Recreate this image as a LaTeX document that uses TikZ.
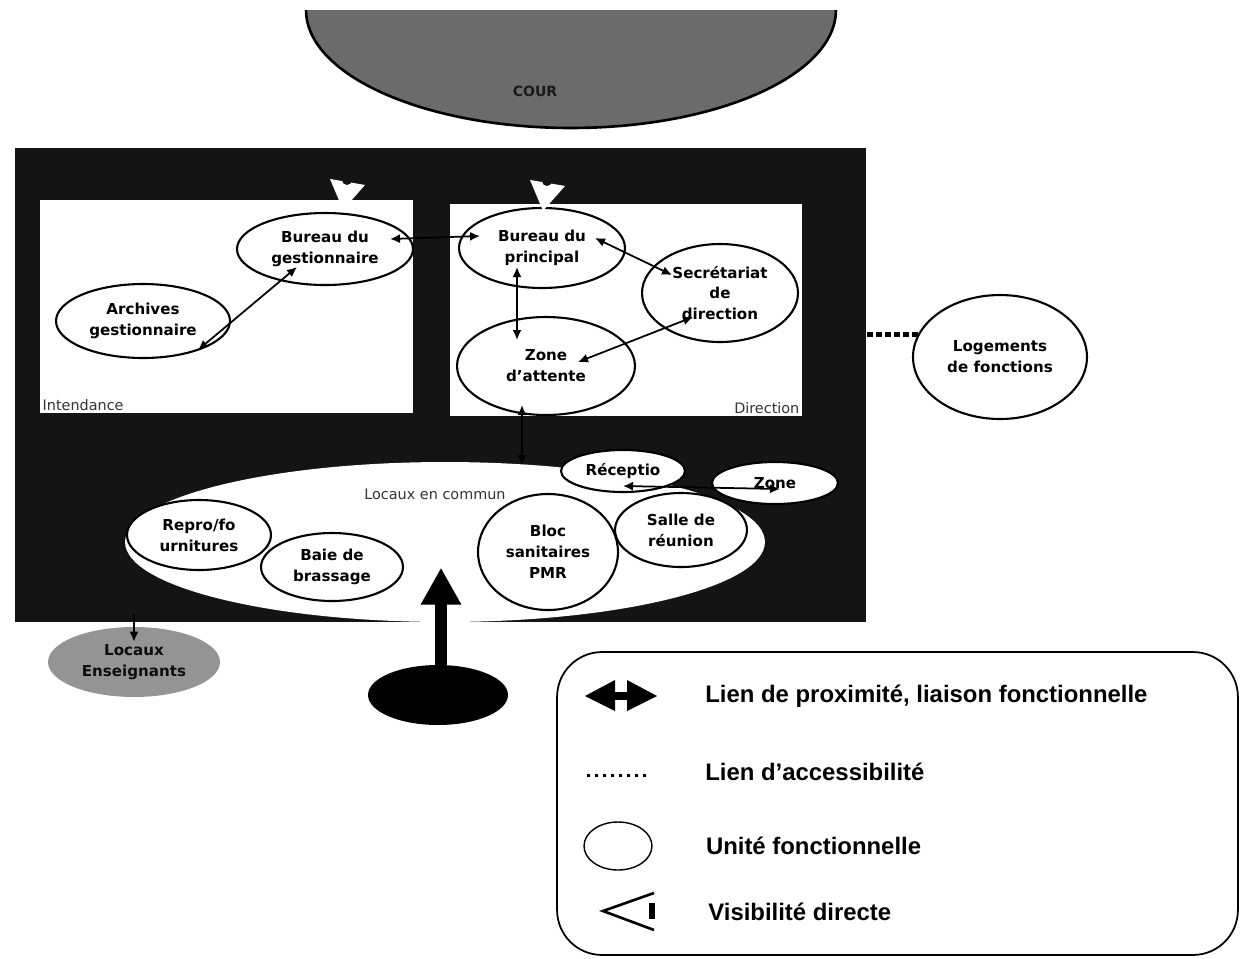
\documentclass[tikz,border=0pt]{standalone}
\usepackage{fontspec}
\setmainfont{DejaVu Sans}
\newfontfamily\legendfont{Liberation Sans}
\usetikzlibrary{arrows.meta, positioning, shapes.geometric, calc}
\tikzset{
    >=Latex,
    unit_ellipse/.style={
        ellipse,
        draw=black,
        fill=white,
        line width=1.2pt,
        inner sep=0pt,
        align=center,
        font=\bfseries\fontsize{8.6}{11.9}\selectfont
    },
    annex_ellipse/.style={
        ellipse,
        fill=black!42,
        inner sep=0pt,
        align=center,
        text=black!95,
        font=\bfseries\fontsize{8.6}{11.9}\selectfont
    },
    entry_disc/.style={
        ellipse,
        fill=black,
        inner sep=0pt,
        minimum width=2.8cm,
        minimum height=1.2cm
    },
    cour_shape/.style={
        ellipse,
        draw=black,
        line width=1.5pt,
        fill=black!58,
        inner sep=0pt,
        minimum width=10.6cm,
        minimum height=4.72cm
    },
    cour_label/.style={
        font=\bfseries\fontsize{8}{9}\selectfont,
        text=black!90,
        inner sep=1pt
    },
    building/.style={
        rectangle,
        fill=black!92,
        inner sep=0pt,
        minimum width=17.02cm,
        minimum height=9.48cm
    },
    zone_box/.style={
        rectangle,
        fill=white,
        inner sep=0pt
    },
    common_area/.style={
        ellipse,
        fill=white,
        inner sep=0pt,
        minimum width=12.8cm,
        minimum height=3.2cm
    },
    zone_label/.style={
        font=\fontsize{8.2}{9}\selectfont,
        text=black!80,
        inner sep=1.5pt
    },
    prox_link/.style={
        {Latex[length=2mm,width=1.8mm]}-{Latex[length=2mm,width=1.8mm]},
        line width=1pt
    },
    out_arrow/.style={
        -{Latex[length=2mm,width=1.8mm]},
        line width=1pt
    },
    access_link/.style={
        line width=0.1cm,
        dash pattern=on 0.12cm off 0.06cm
    },
    entry_arrow/.style={
        -{Triangle[width=0.76cm,length=0.74cm]},
        line width=0.24cm
    },
    legend_box/.style={
        rectangle,
        rounded corners=0.9cm,
        draw=black,
        line width=1pt,
        inner sep=0pt,
        minimum width=13.62cm,
        minimum height=6.06cm
    },
    legend_unit/.style={
        ellipse,
        draw=black,
        line width=0.8pt,
        inner sep=0pt,
        minimum width=1.36cm,
        minimum height=0.96cm
    },
    legend_text/.style={
        anchor=west,
        inner sep=0pt,
        font=\legendfont\bfseries\fontsize{13.6}{15}\selectfont
    }
}
\newcommand{\viewmark}[1]{
    \fill[white] ($(#1)+(-13,-31)$) -- ($(#1)+(22,-25)$) -- (#1) -- cycle;
    \fill[black!92] ($(#1)+(4,-30)$) circle[radius=5];
}

\begin{document}
\begin{tikzpicture}[x=0.02cm, y=-0.02cm]
\useasboundingbox (0,0) rectangle (1242,958);

% --- Cour ---
\begin{scope}
    \clip (0,10) rectangle (1242,300);
    \node[cour_shape] (cour) at (571,10) {};
\end{scope}
\node[cour_label] (cour_lbl) at (535,91) {COUR};

% --- Batiment ---
\node[building] (batiment) at (440.5,385) {};
\node[zone_box, minimum width=7.46cm, minimum height=4.26cm] (intendance) at (226.5,306.5) {};
\node[zone_box, minimum width=7.04cm, minimum height=4.24cm] (direction) at (626,310) {};
\node[zone_label, anchor=south west] (lbl_int) at (intendance.south west) {Intendance};
\node[zone_label, anchor=south east] (lbl_dir) at (direction.south east) {Direction};
\node[common_area] (commun) at (445,542) {};
\node[zone_label] (lbl_commun) at (435,494) {Locaux en commun};

% --- Intendance ---
\node[unit_ellipse, minimum width=3.52cm, minimum height=1.44cm] (gest) at (325,249) {Bureau du\\gestionnaire};
\node[unit_ellipse, minimum width=3.48cm, minimum height=1.48cm] (arch) at (143,321) {Archives\\gestionnaire};

% --- Direction ---
\node[unit_ellipse, minimum width=3.32cm, minimum height=1.6cm] (princ) at (542,248) {Bureau du\\principal};
\node[unit_ellipse, minimum width=3.12cm, minimum height=1.96cm] (secr) at (720,293) {Secrétariat\\de\\direction};
\node[unit_ellipse, minimum width=3.56cm, minimum height=1.96cm] (attente) at (546,366) {Zone\\d'attente};

% --- Locaux en commun ---
\node[unit_ellipse, minimum width=2.48cm, minimum height=0.84cm] (reception) at (623,471) {Réceptio};
\node[unit_ellipse, minimum width=2.52cm, minimum height=0.84cm] (zone_acc) at (775,483) {Zone};
\node[unit_ellipse, minimum width=2.88cm, minimum height=1.4cm] (repro) at (199,535) {Repro/fo\\urnitures};
\node[unit_ellipse, minimum width=2.84cm, minimum height=1.36cm] (baie) at (332,567) {Baie de\\brassage};
\node[unit_ellipse, minimum width=2.8cm, minimum height=2.32cm] (bloc) at (548,552) {Bloc\\sanitaires\\PMR};
\node[unit_ellipse, minimum width=2.64cm, minimum height=1.48cm] (salle) at (681,530) {Salle de\\réunion};

% --- Exterieur ---
\node[unit_ellipse, minimum width=3.48cm, minimum height=2.48cm] (logements) at (1000,357) {Logements\\de fonctions};
\node[annex_ellipse, minimum width=3.44cm, minimum height=1.4cm] (enseignants) at (134,662) {Locaux\\Enseignants};
\node[entry_disc] (entree) at (438,695) {};

% --- Liens ---
\draw[prox_link] ($(arch)+(55,29)$) -- ($(gest)+(-28,18)$);
\draw[prox_link] ($(gest)+(65,-10)$) -- ($(princ)+(-62,-12)$);
\draw[prox_link] ($(princ)+(53,-10)$) -- ($(secr)+(-48,-18)$);
\draw[prox_link] ($(princ)+(-25,19)$) -- ($(attente)+(-29,-26)$);
\draw[prox_link] ($(secr)+(-27,24)$) -- ($(attente)+(32,-4)$);
\draw[prox_link] ($(attente)+(-24,39)$) -- ($(commun)+(77,-77)$);
\draw[prox_link] ($(reception)+(0,15)$) -- ($(zone_acc)+(5,6)$);
\draw[access_link] (logements.165) -- (logements.165 -| batiment.east);
\draw[out_arrow] ($(enseignants.north |- batiment.south)+(0,-8)$) -- ($(enseignants.north)+(0,15)$);
\draw[entry_arrow] ($(entree.north)+(3,0)$) -- ($(entree.north)+(3,-97)$);

% --- Visibilite ---
\coordinate (eye_gest) at ($(gest.north)+(18,-2)$);
\coordinate (eye_princ) at ($(princ.north)+(1,4)$);
\viewmark{eye_gest}
\viewmark{eye_princ}

% --- Legende ---
\node[legend_box] (legend) at (897.5,803.5) {};
\fill (585,696) -- (615,680) -- (615,711) -- cycle;
\fill (627,680) -- (657,696) -- (627,711) -- cycle;
\fill (613,692) rectangle (629,700);
\node[legend_text] (txt_prox) at (705,696) {Lien de proximité, liaison fonctionnelle};
\draw[line width=0.06cm, dash pattern=on 0.06cm off 0.1cm] (587,775) -- (647,775);
\node[legend_text] (txt_acc) at (705,772) {Lien d’accessibilité};
\node[legend_unit] (leg_unit) at (618,846) {};
\node[legend_text, right=1.06cm of leg_unit] (txt_unit) {Unité fonctionnelle};
\draw[line width=1.5pt] (654,893) -- (603,911) -- (654,930);
\fill (649,903) rectangle (655,919);
\node[legend_text] (txt_vis) at (708,912) {Visibilité directe};

\end{tikzpicture}
\end{document}
